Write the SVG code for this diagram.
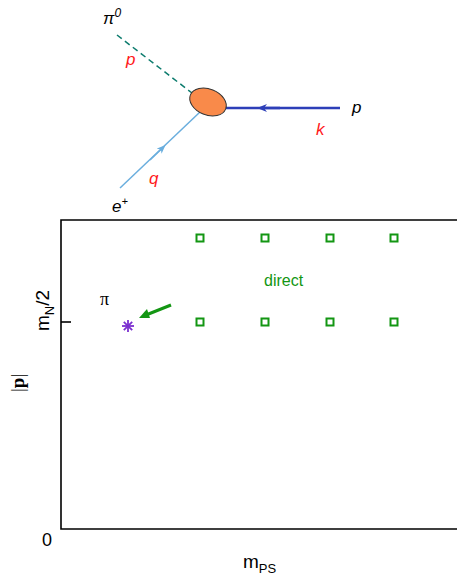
<svg xmlns="http://www.w3.org/2000/svg" width="457" height="575" viewBox="0 0 457 575">
<style>
.lbl{font-family:"Liberation Sans",Arial,sans-serif;}
.it{font-family:"Liberation Sans",Arial,sans-serif;font-style:italic;font-size:17px;}
.red{fill:#ff1a1a;}
.sq{fill:none;stroke:#139613;stroke-width:2;}
.ax{stroke:#000;stroke-width:1.6;fill:none;}
</style>
<defs>
<marker id="ah" markerWidth="10" markerHeight="8" refX="5" refY="4" orient="auto" markerUnits="userSpaceOnUse">
<path d="M0,0 L10,4 L0,8 L3,4 Z" fill="#2d3fb8"/>
</marker>
<marker id="ahq" markerWidth="9" markerHeight="7" refX="4" refY="3.5" orient="auto" markerUnits="userSpaceOnUse">
<path d="M0,0 L9,3.5 L0,7 L2.5,3.5 Z" fill="#6aaede"/>
</marker>
</defs>
<g id="connectors">
<line x1="117" y1="35" x2="192" y2="93" stroke="#0d7c6e" stroke-width="1.5" stroke-dasharray="6,4"/>
<line x1="226" y1="108" x2="340" y2="108" stroke="#2d3fb8" stroke-width="2.5"/>
<path d="M280,108 L262,108" stroke="#2d3fb8" stroke-width="2.5" marker-end="url(#ah)"/>
<line x1="120" y1="188" x2="200" y2="112" stroke="#6aaede" stroke-width="1.5"/>
<path d="M150,160 L162,148.5" stroke="#6aaede" stroke-width="1.5" marker-end="url(#ahq)"/>
<line x1="171" y1="305" x2="146" y2="315" stroke="#139613" stroke-width="3"/>
<path d="M139,318 L147,309 L150,318 Z" fill="#139613"/>
</g>
<g id="vertex">
<ellipse cx="208" cy="102" rx="19" ry="13" transform="rotate(22 208 102)" fill="#f98a4a" stroke="#333" stroke-width="1"/>
</g>
<g id="labels-feynman">
<text x="103" y="24" class="it">π<tspan font-size="12" dy="-7">0</tspan></text>
<text x="126" y="65" class="it red">p</text>
<text x="352" y="113" class="it">p</text>
<text x="316" y="135" class="it red">k</text>
<text x="149" y="184" class="it red">q</text>
<text x="112" y="212" class="it" font-style="normal" font-size="16">e<tspan font-size="11" dy="-7">+</tspan></text>
</g>
<g id="axes">
<path class="ax" d="M457,220 L61,220 L61,529 L457,529"/>
<line class="ax" x1="61" y1="322" x2="71" y2="322"/>
<text x="47" y="546" class="lbl" font-size="18" text-anchor="middle">0</text>
<text x="243" y="568" class="lbl" font-size="19">m<tspan font-size="13" dy="5">PS</tspan></text>
<text transform="translate(49 331) rotate(-90)" class="lbl" font-size="19">m<tspan font-size="13" dy="5">N</tspan><tspan dy="-5">/2</tspan></text>
<text transform="translate(24 392) rotate(-90)" font-family="Liberation Serif,serif" font-size="19">|<tspan font-weight="bold">p</tspan>|</text>
</g>
<g id="direct">
<rect class="sq" x="196.5" y="234.5" width="7" height="7"/>
<rect class="sq" x="261.5" y="234.5" width="7" height="7"/>
<rect class="sq" x="326.5" y="234.5" width="7" height="7"/>
<rect class="sq" x="390.5" y="234.5" width="7" height="7"/>
<rect class="sq" x="196.5" y="318.5" width="7" height="7"/>
<rect class="sq" x="261.5" y="318.5" width="7" height="7"/>
<rect class="sq" x="326.5" y="318.5" width="7" height="7"/>
<rect class="sq" x="390.5" y="318.5" width="7" height="7"/>
<text x="264" y="286" class="lbl" font-size="16" fill="#139613">direct</text>
</g>
<g id="pion">
<text x="100" y="305" font-family="Liberation Serif,serif" font-size="18">π</text>
<g stroke="#7b2fd0" stroke-width="1.8">
<line x1="128" y1="320" x2="128" y2="332"/>
<line x1="122" y1="326" x2="134" y2="326"/>
<line x1="123.8" y1="321.8" x2="132.2" y2="330.2"/>
<line x1="123.8" y1="330.2" x2="132.2" y2="321.8"/>
</g>
</g>
</svg>
